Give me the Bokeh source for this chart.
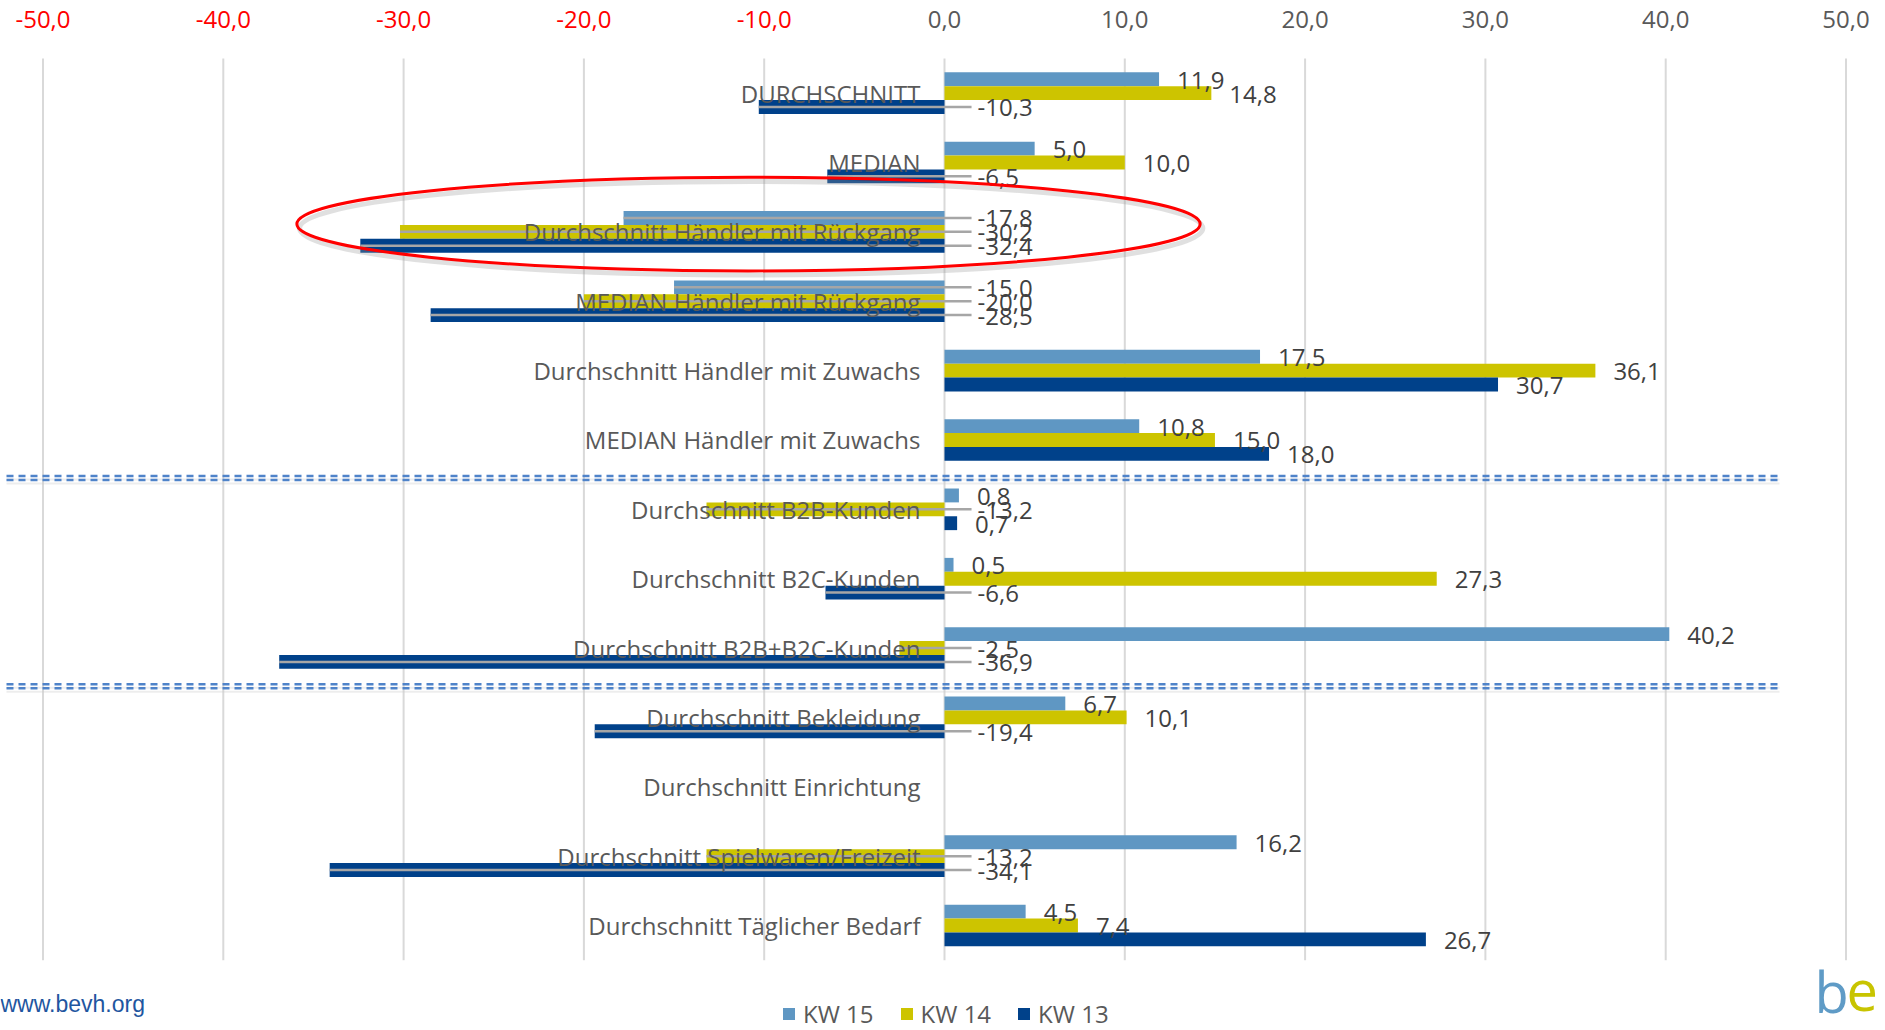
from bokeh.plotting import figure
from bokeh.models import Range1d, Legend, LegendItem, ColumnDataSource
from bokeh.core.properties import value
from bokeh.embed import file_html
from bokeh.resources import INLINE

# ---------------- data ----------------
categories = [
    "DURCHSCHNITT",
    "MEDIAN",
    "Durchschnitt Händler mit Rückgang",
    "MEDIAN Händler mit Rückgang",
    "Durchschnitt Händler mit Zuwachs",
    "MEDIAN Händler mit Zuwachs",
    "Durchschnitt B2B-Kunden",
    "Durchschnitt B2C-Kunden",
    "Durchschnitt B2B+B2C-Kunden",
    "Durchschnitt Bekleidung",
    "Durchschnitt Einrichtung",
    "Durchschnitt Spielwaren/Freizeit",
    "Durchschnitt Täglicher Bedarf",
]
kw15 = [11.9, 5.0, -17.8, -15.0, 17.5, 10.8, 0.8, 0.5, 40.2, 6.7, None, 16.2, 4.5]
kw14 = [14.8, 10.0, -30.2, -20.0, 36.1, 15.0, -13.2, 27.3, -2.5, 10.1, None, -13.2, 7.4]
kw13 = [-10.3, -6.5, -32.4, -28.5, 30.7, 18.0, 0.7, -6.6, -36.9, -19.4, None, -34.1, 26.7]
series_names = ["KW 15", "KW 14", "KW 13"]
series_values = [kw15, kw14, kw13]
x_ticks = [-50, -40, -30, -20, -10, 0, 10, 20, 30, 40, 50]
separators_after = [5, 8]

# ---------------- style ----------------
colors = ["#5f97c3", "#cdc400", "#00418a"]
FONT = "Open Sans"
CAT_COLOR = "#595959"
VAL_COLOR = "#404040"
GRID_COLOR = "#d9d9d9"
FS = "24px"

W, H = 1885, 1030
PXX = 18.03          # px per x unit
ZERO_PX = 944.0      # canvas px of x = 0
BAND = 69.37         # px per category
CAT0_PX = 92.6       # canvas px of first category centre

x0 = -ZERO_PX / PXX
x1 = x0 + W / PXX
y_top = -CAT0_PX / BAND
y_bot = y_top + H / BAND


def ux(px):
    return x0 + px / PXX


def uy(px):
    return y_top + px / BAND


p = figure(width=W, height=H, output_backend="svg", toolbar_location=None,
           x_range=Range1d(x0, x1), y_range=Range1d(y_bot, y_top),
           x_axis_location=None, y_axis_location=None, title=None,
           min_border=0, min_border_left=0, min_border_right=0,
           min_border_top=0, min_border_bottom=0)
p.grid.visible = False
p.outline_line_color = None
p.background_fill_color = "white"
p.border_fill_color = "white"

n = len(categories)

# vertical grid lines at tick positions
p.segment(x0=x_ticks, x1=x_ticks, y0=[-0.5] * len(x_ticks), y1=[n - 0.5] * len(x_ticks),
          line_color=GRID_COLOR, line_width=2)

# tick labels on top (negative red, others grey)
tick_src = ColumnDataSource(dict(
    x=x_ticks,
    y=[uy(19)] * len(x_ticks),
    t=[f"{t:.1f}".replace(".", ",") for t in x_ticks],
    c=["#ff0000" if t < 0 else CAT_COLOR for t in x_ticks],
))
p.text(x="x", y="y", text="t", text_color="c", source=tick_src,
       text_font=value(FONT), text_font_size=FS, text_align="center",
       text_baseline="middle")

# bars
offsets = [-0.2, 0.0, 0.2]
renderers = []
for name, vals, col, off in zip(series_names, series_values, colors, offsets):
    ys = [i + off for i, v in enumerate(vals) if v is not None]
    vs = [v for v in vals if v is not None]
    r = p.hbar(y=ys, left=0, right=vs, height=0.2, fill_color=col,
               line_color=None)
    renderers.append(r)

# leader lines for negative labels, then value labels
LEADER_END = 1.5
for vals, off in zip(series_values, offsets):
    lx0, lx1, ly = [], [], []
    tx, ty, tt, toff = [], [], [], []
    for i, v in enumerate(vals):
        if v is None:
            continue
        y = i + off
        tt.append(f"{v:.1f}".replace(".", ","))
        ty.append(y)
        if v < 0:
            lx0.append(v)
            lx1.append(LEADER_END)
            ly.append(y)
            tx.append(0)
            toff.append(33)
        else:
            tx.append(v)
            toff.append(18)
    if lx0:
        p.segment(x0=lx0, x1=lx1, y0=ly, y1=ly, line_color="#a6a6a6", line_width=2.5)
    src = ColumnDataSource(dict(x=tx, y=ty, t=tt, o=toff))
    p.text(x="x", y="y", text="t", x_offset="o", y_offset=1, source=src,
           text_color=VAL_COLOR, text_font=value(FONT), text_font_size=FS,
           text_align="left", text_baseline="middle")

# category labels
p.text(x=[0] * n, y=list(range(n)), text=categories, x_offset=-24,
       text_color=CAT_COLOR, text_font=value(FONT), text_font_size=FS,
       text_align="right", text_baseline="middle")

# double dashed separators
for k in separators_after:
    yc = k + 0.55
    for dy in (-0.029, 0.029):
        p.segment(x0=[ux(6)], x1=[ux(1779)], y0=[yc + dy + 0.05], y1=[yc + dy + 0.05],
                  line_color="#cccccc", line_width=2, line_alpha=0.35)
        p.segment(x0=[ux(6)], x1=[ux(1779)], y0=[yc + dy], y1=[yc + dy],
                  line_color="#4f83c9", line_width=2.5, line_dash="7 5")

# red ellipse highlight (with soft shadow)
p.ellipse(x=[-10.87 + 0.15], y=[1.888 + 0.06], width=50.1, height=1.35,
          fill_color=None, line_color="#999999", line_alpha=0.3, line_width=5)
p.ellipse(x=[-10.87], y=[1.888], width=50.1, height=1.35,
          fill_color=None, line_color="#ff0000", line_width=3)

# footer texts
p.text(x=[x0], y=[uy(1003)], text=["www.bevh.org"], text_color="#1f56a0",
       text_font=value("Liberation Sans"), text_font_size="23px",
       text_align="left", text_baseline="middle")
p.text(x=[ux(1814)], y=[uy(990)], text=["b"], text_color="#5f9bc6",
       text_font=value("Open Sans"), text_font_size="56px",
       text_align="left", text_baseline="middle")
p.text(x=[ux(1846)], y=[uy(990)], text=["e"], text_color="#c8c400",
       text_font=value("Open Sans"), text_font_size="56px",
       text_align="left", text_baseline="middle")

# legend
legend = Legend(items=[LegendItem(label=nm, renderers=[r]) for nm, r in zip(series_names, renderers)],
                orientation="horizontal", location=(781, 0),
                glyph_width=15, glyph_height=15, label_standoff=7, spacing=25,
                padding=0, margin=0, border_line_color=None,
                background_fill_alpha=0, label_text_font=FONT,
                label_text_font_size=FS, label_text_color=CAT_COLOR)
p.add_layout(legend)

open("out.html", "w").write(file_html(p, INLINE))
